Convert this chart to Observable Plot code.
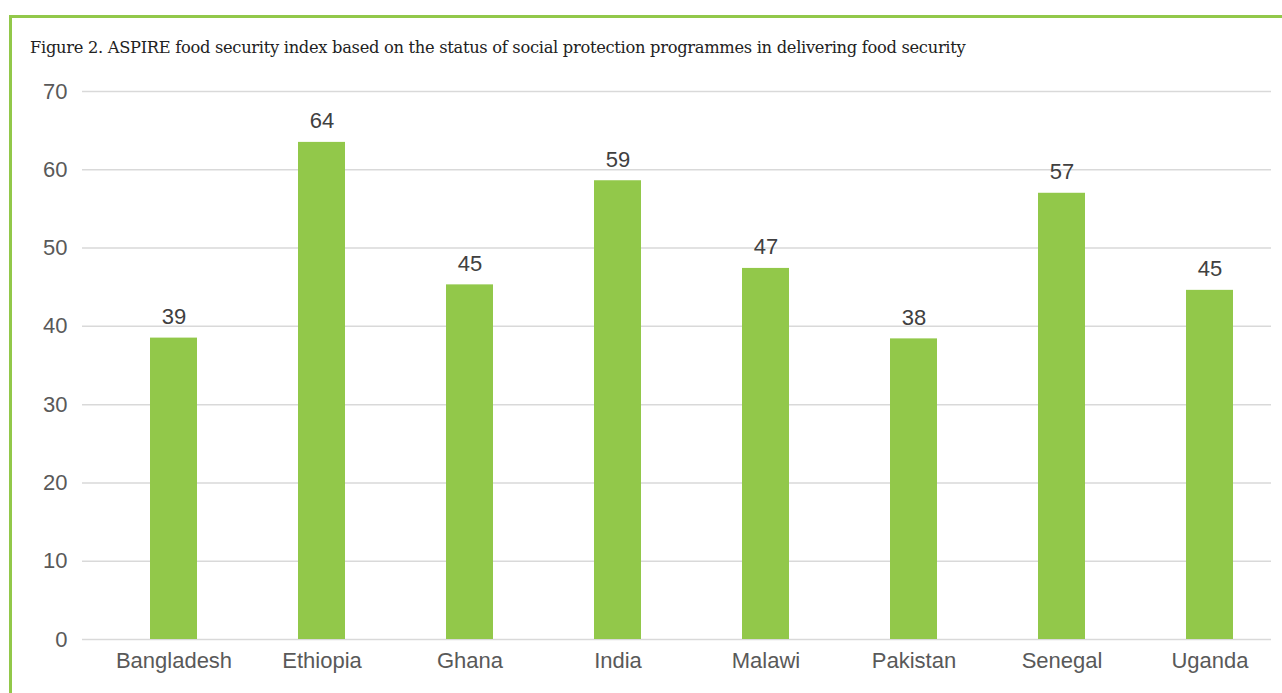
<!DOCTYPE html>
<html><head><meta charset="utf-8">
<script src="https://cdn.jsdelivr.net/npm/d3@7"></script>
<script src="https://cdn.jsdelivr.net/npm/@observablehq/plot@0.6"></script>
<style>
html,body{margin:0;padding:0;overflow:hidden}
body{background:#fff;width:1282px;height:693px;position:relative;font-family:"Liberation Sans",Arial,sans-serif}
#frame{position:absolute;left:9px;top:15px;width:1270px;height:675px;border-left:3px solid #92c84a;border-top:3px solid #92c84a}
#title{position:absolute;left:30px;top:38px;font-family:"DejaVu Serif",serif;font-size:16.3px;color:#222;white-space:nowrap;letter-spacing:-0.3px}
#chart{position:absolute;left:0;top:0;width:1282px;height:693px}
#chart svg{max-width:none}
</style></head><body>
<div id="frame"></div>
<div id="title">Figure 2. ASPIRE food security index based on the status of social protection programmes in delivering food security</div>
<div id="chart"></div>
<script>
const countries = ["Bangladesh","Ethiopia","Ghana","India","Malawi","Pakistan","Senegal","Uganda"];
const values = [38.5, 63.5, 45.3, 58.6, 47.4, 38.4, 57.0, 44.6];
const labels = ["39","64","45","59","47","38","57","45"];
const yTicks = [0,10,20,30,40,50,60,70];
const data = countries.map((c,i)=>({country:c, value:values[i], label:labels[i]}));
const plot = Plot.plot({
  width:1282, height:693,
  marginLeft:82, marginRight:11, marginTop:91, marginBottom:54,
  style:{fontFamily:"Liberation Sans, Arial, sans-serif", background:"transparent"},
  x:{domain:countries, paddingInner:0.684, paddingOuter:0.348, align:0.64, label:null},
  y:{domain:[0,70], ticks:yTicks, label:null},
  marks:[
    Plot.gridY(yTicks, {stroke:"#d9d9d9", strokeOpacity:1, strokeWidth:1.5}),
    Plot.barY(data, {x:"country", y:"value", fill:"#92c84a"}),
    Plot.text(data, {x:"country", y:"value", text:"label", dy:-21, fontSize:22, fill:"#404040"}),
    Plot.axisY({ticks:yTicks, tickSize:0, tickPadding:15, fontSize:22, fill:"#595959", label:null}),
    Plot.axisX({tickSize:0, tickPadding:13, fontSize:22, fill:"#595959", label:null})
  ]
});
document.getElementById("chart").appendChild(plot);
</script>
</body></html>
